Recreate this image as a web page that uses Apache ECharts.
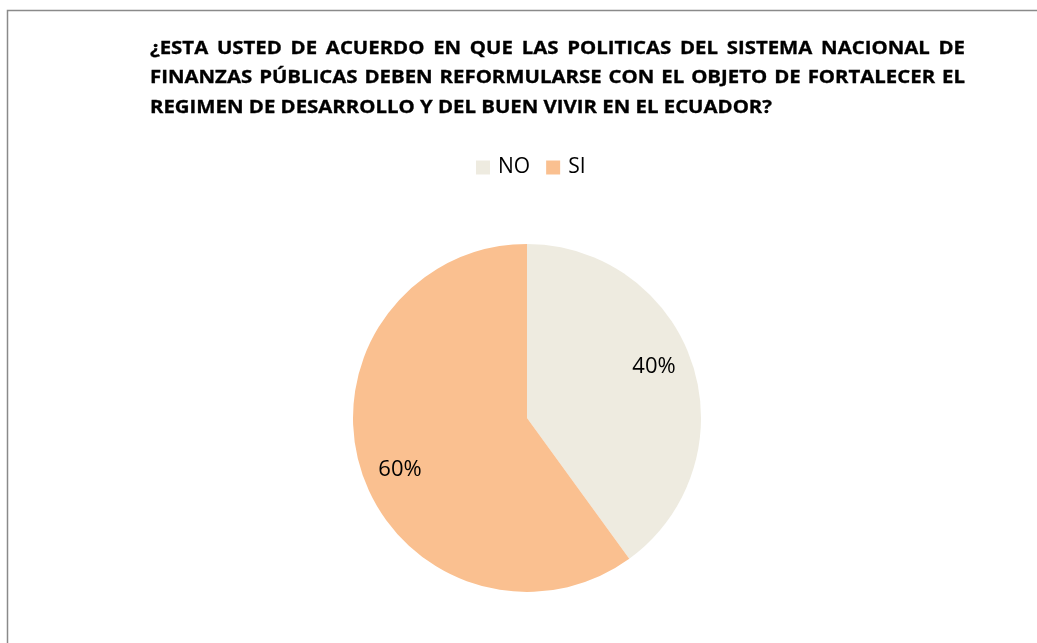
<!DOCTYPE html>
<html>
<head>
<meta charset="utf-8">
<script src="https://cdn.jsdelivr.net/npm/echarts@6/dist/echarts.min.js"></script>
<style>html,body{margin:0;padding:0;background:#fff;}#c{width:1037px;height:643px;}</style>
</head>
<body>
<div id="c"></div>
<script>
const titleLines = [
  '¿ESTA USTED DE ACUERDO EN QUE LAS POLITICAS DEL SISTEMA NACIONAL DE',
  'FINANZAS PÚBLICAS DEBEN REFORMULARSE CON EL OBJETO DE FORTALECER EL',
  'REGIMEN DE DESARROLLO Y DEL BUEN VIVIR EN EL ECUADOR?'
];
const categories = ['NO', 'SI'];
const values = [40, 60];
const colors = ['#EEEBE0', '#FAC090'];

const chart = echarts.init(document.getElementById('c'), null, {renderer: 'canvas'});

const titleFont = 'bold 17px "Open Sans"';
const ctx = document.createElement('canvas').getContext('2d');
ctx.font = titleFont;
const left = 150, right = 965, lastLineRight = 772;
const lineY = [49, 78.5, 108.5];
const sx = (lastLineRight - left) / ctx.measureText(titleLines[titleLines.length - 1]).width;
const graphics = [];
function addText(t, x, y) {
  graphics.push({type: 'text', x: x, y: y, scaleX: sx, scaleY: 1, silent: true,
    style: {text: t, font: titleFont, fill: '#000', stroke: '#000', lineWidth: 0.3, textVerticalAlign: 'middle', textAlign: 'left'}});
}
titleLines.forEach((line, li) => {
  const words = line.split(' ');
  if (li < titleLines.length - 1) {
    const widths = words.map(w => ctx.measureText(w).width * sx);
    const total = widths.reduce((a, b) => a + b, 0);
    const gap = (right - left - total) / (words.length - 1);
    let x = left;
    words.forEach((w, i) => { addText(w, x, lineY[li]); x += widths[i] + gap; });
  } else {
    addText(line, left, lineY[li]);
  }
});
graphics.push({type: 'polyline', silent: true, shape: {points: [[7.5, 643], [7.5, 10.5], [1037, 10.5]]},
  style: {stroke: '#8a8a8a', lineWidth: 1.5, fill: null}});

const pieData = categories.map((c, i) => ({name: c, value: values[i], itemStyle: {color: colors[i]}}));

chart.setOption({
  animation: false,
  backgroundColor: '#fff',
  graphic: graphics,
  legend: {
    top: 152,
    left: 471,
    itemWidth: 14,
    itemHeight: 14,
    itemGap: 16,
    icon: 'rect',
    textStyle: {fontFamily: 'Open Sans', fontSize: 21, color: '#000', padding: [0, 0, 0, 3]},
    data: categories.map((c, i) => ({name: c, itemStyle: {color: colors[i]}}))
  },
  series: [
    {
      type: 'pie',
      center: [527, 418],
      radius: [0, 174],
      startAngle: 90,
      clockwise: true,
      label: {show: false},
      labelLine: {show: false},
      emphasis: {disabled: true},
      itemStyle: {borderWidth: 0},
      data: pieData
    },
    {
      type: 'pie',
      center: [527, 418],
      radius: [94, 174],
      startAngle: 94,
      clockwise: true,
      silent: true,
      z: 5,
      label: {show: true, position: 'inside', formatter: '{d}%', fontFamily: 'Open Sans', fontSize: 22, color: '#000'},
      labelLine: {show: false},
      emphasis: {disabled: true},
      itemStyle: {color: 'rgba(0,0,0,0)', borderWidth: 0},
      data: categories.map((c, i) => ({name: c, value: values[i]}))
    }
  ]
});
</script>
</body>
</html>
